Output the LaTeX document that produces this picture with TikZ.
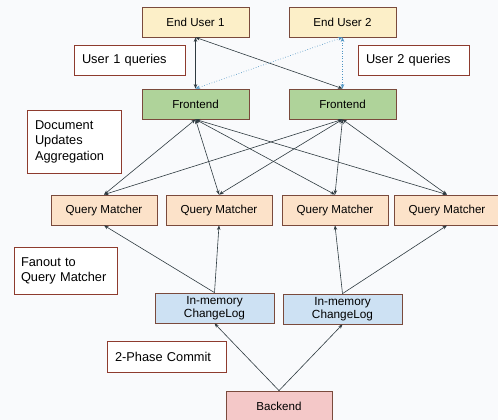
\documentclass[tikz,border=0pt]{standalone}
\usepackage{fontspec}
\setmainfont{Liberation Sans}
\usetikzlibrary{arrows.meta}

\definecolor{bgcol}{HTML}{F9FAFC}
\definecolor{boxline}{HTML}{7A4A3C}
\definecolor{noteline}{HTML}{8E3B2E}
\definecolor{linkcol}{HTML}{2E3A40}
\definecolor{dotcol}{HTML}{4E94C4}
\definecolor{userfill}{HTML}{FCEFC8}
\definecolor{frontfill}{HTML}{AFD39A}
\definecolor{matchfill}{HTML}{FCE2C9}
\definecolor{logfill}{HTML}{CDE1F3}
\definecolor{backfill}{HTML}{F4C8C8}

\begin{document}
\begin{tikzpicture}[x=1pt, y=-1pt, font=\fontsize{11.6}{13}\selectfont,
    box/.style={draw=boxline, line width=0.8pt, minimum height=30pt, inner sep=0pt},
    user/.style={box, fill=userfill, minimum width=107pt},
    front/.style={box, fill=frontfill, minimum width=107pt},
    matcher/.style={box, fill=matchfill, minimum width=106pt},
    changelog/.style={box, fill=logfill, minimum width=119pt, align=center,
        font=\fontsize{11.8}{13}\selectfont},
    backend/.style={box, fill=backfill, minimum width=106pt},
    note/.style={draw=noteline, fill=white, line width=0.7pt, inner xsep=8pt,
        inner ysep=0pt, align=left, font=\fontsize{12.8}{15}\selectfont},
    link/.style={-{Stealth[length=4.5pt, width=3.5pt]}, line width=0.6pt, draw=linkcol},
    biglink/.style={link, {Stealth[length=4.5pt, width=3.5pt]}-{Stealth[length=4.5pt, width=3.5pt]}},
    dotlink/.style={biglink, draw=dotcol, dotted, line width=0.7pt}
    ]
    \fill [bgcol] (0, 0) rectangle (498, 420);
    \useasboundingbox (0, 0) rectangle (498, 420);

    % users and frontends
    \node [user] (user1) at (195.5, 22) {End User 1};
    \node [user] (user2) at (342.5, 22) {End User 2};
    \node [front] (front1) at (195.5, 104) {Frontend};
    \node [front] (front2) at (342.5, 104) {Frontend};

    % query matchers
    \node [matcher] (qm1) at (104, 210) {Query Matcher};
    \node [matcher] (qm2) at (219, 210) {Query Matcher};
    \node [matcher] (qm3) at (335, 210) {Query Matcher};
    \node [matcher] (qm4) at (447, 210) {Query Matcher};

    % change logs and backend
    \node [changelog] (log1) at (214.5, 308) {In-memory\\ChangeLog};
    \node [changelog] (log2) at (342.5, 309) {In-memory\\ChangeLog};
    \node [backend] (backend) at (279, 406) {Backend};

    % notes
    \node [note, text width=95pt, minimum height=30pt] (q1note) at (129.5, 60) {User 1 queries};
    \node [note, text width=95pt, minimum height=30pt] (q2note) at (413.5, 60) {User 2 queries};
    \node [note, text width=78pt, minimum height=63pt, font=\fontsize{12.8}{15.5}\selectfont]
        (docnote) at (74, 141.5) {Document\\Updates\\Aggregation};
    \node [note, text width=89pt, minimum height=47pt, inner xsep=7pt]
        (fannote) at (65.5, 270.5) {Fanout to\\Query Matcher};
    \node [note, text width=103pt, minimum height=31pt] (commitnote) at (166.5, 356.5) {2-Phase Commit};

    % user traffic
    \draw [biglink] (user1.south) -- (front1.north);
    \draw [biglink] (user1.south) -- (front2.north);
    \draw [dotlink] (user2.south) -- (front1.north);
    \draw [dotlink] (user2.south) -- (front2.north);

    % frontends to matchers
    \foreach \f in {front1, front2} {
        \foreach \q in {qm1, qm2, qm3, qm4} {
            \draw [biglink] (\f.south) -- (\q.north);
        }
    }

    % fanout
    \draw [link] (log1.north) -- (qm1.south);
    \draw [link] (log1.north) -- (qm2.south);
    \draw [link] (log2.north) -- (qm3.south);
    \draw [link] (log2.north) -- (qm4.south);
    \draw [link] (backend.north) -- (log1.south);
    \draw [link] (backend.north) -- (log2.south);
\end{tikzpicture}
\end{document}
